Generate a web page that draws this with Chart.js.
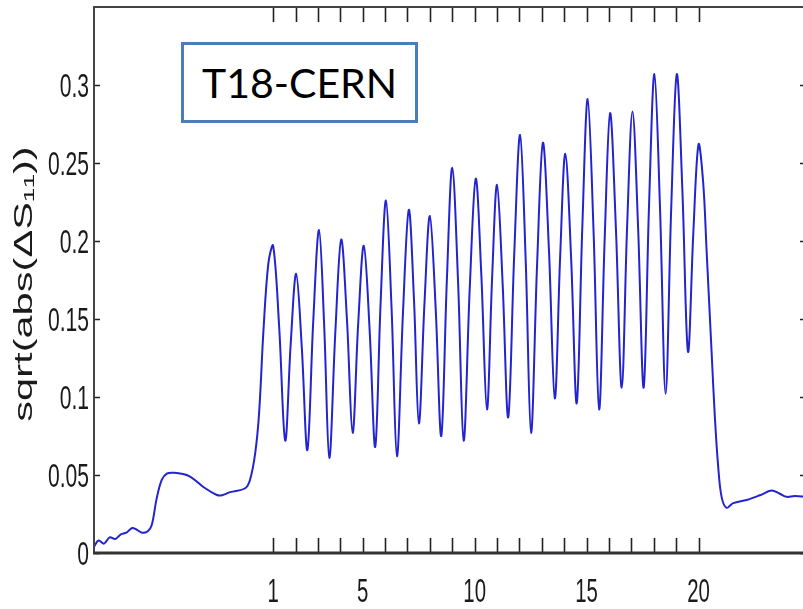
<!DOCTYPE html>
<html>
<head>
<meta charset="utf-8">
<script src="https://cdn.jsdelivr.net/npm/chart.js@4.4.0/dist/chart.umd.min.js"></script>
<style>
  html, body { margin: 0; padding: 0; background: #fff; }
  #wrap { position: relative; width: 803px; height: 609px; overflow: hidden; }
  #chart { position: absolute; left: 0; top: 0; }
  .tag {
    position: absolute; left: 181px; top: 42px; width: 237px; height: 81px;
    box-sizing: border-box; border: 3px solid #4a7ebb; background: #fff;
    font-family: Lato, 'Open Sans', sans-serif; font-size: 41px; line-height: 75px;
    padding-left: 18px; color: #000;
  }
</style>
</head>
<body>
<div id="wrap">
  <canvas id="chart" width="812" height="609"></canvas>
  <div class="tag">T18-CERN</div>
</div>
<script>
// axis ticks
const xTicks = [1, 2, 3, 4, 5, 6, 7, 8, 9, 10, 11, 12, 13, 14, 15, 16, 17, 18, 19, 20];
const xLabelled = [1, 5, 10, 15, 20];
const yTicks = [0, 0.05, 0.1, 0.15, 0.2, 0.25, 0.3];
const yLabels = ['0', '0.05', '0.1', '0.15', '0.2', '0.25', '0.3'];
const yTitle = 'sqrt(abs(ΔS₁₁))';

// noisy floor, first bump and rise into the first peak
const leadX = [-7.0, -6.8, -6.55, -6.3, -6.05, -5.8, -5.55, -5.3, -5.1, -4.85, -4.6, -4.42, -4.2, -3.97,
  -3.73, -3.45, -3.15, -2.71, -2.13, -1.51, -1.28, -0.92, -0.25, -0.03, 0.2, 0.375, 0.57, 0.79];
const leadY = [0.004, 0.008, 0.006, 0.010, 0.009, 0.012, 0.013, 0.016, 0.015, 0.013, 0.014, 0.018, 0.035, 0.047,
  0.051, 0.0515, 0.051, 0.049, 0.0425, 0.0372, 0.037, 0.039, 0.0415, 0.047, 0.064, 0.09, 0.143, 0.186];

// each row: peak, falling flank, trough, rising flank of next peak
const pulseX = [
  1.00, 1.27, 1.54, 1.785,
  2.03, 2.28, 2.53, 2.79,
  3.05, 3.28, 3.51, 3.78,
  4.04, 4.30, 4.55, 4.80,
  5.05, 5.31, 5.56, 5.80,
  6.04, 6.29, 6.53, 6.80,
  7.06, 7.29, 7.51, 7.76,
  8.00, 8.26, 8.51, 8.76,
  9.00, 9.26, 9.51, 9.78,
  10.05, 10.30, 10.55, 10.78,
  11.00, 11.25, 11.50, 11.77,
  12.03, 12.28, 12.52, 12.79,
  13.05, 13.32, 13.58, 13.82,
  14.05, 14.31, 14.56, 14.81,
  15.05, 15.31, 15.56, 15.81,
  16.05, 16.31, 16.57, 16.81,
  17.05, 17.30, 17.55, 17.79,
  18.03, 18.28, 18.53, 18.78,
  19.03, 19.28, 19.53, 19.77,
  20.00
];
const pulseY = [
  0.197, 0.145, 0.072, 0.134,
  0.179, 0.132, 0.066, 0.148,
  0.207, 0.146, 0.061, 0.142,
  0.201, 0.149, 0.077, 0.147,
  0.197, 0.143, 0.068, 0.160,
  0.226, 0.157, 0.062, 0.154,
  0.220, 0.163, 0.083, 0.160,
  0.216, 0.157, 0.075, 0.175,
  0.247, 0.174, 0.072, 0.169,
  0.240, 0.178, 0.092, 0.176,
  0.236, 0.173, 0.087, 0.192,
  0.268, 0.188, 0.077, 0.185,
  0.263, 0.194, 0.099, 0.190,
  0.256, 0.189, 0.096, 0.209,
  0.291, 0.207, 0.092, 0.202,
  0.282, 0.208, 0.106, 0.209,
  0.283, 0.209, 0.106, 0.223,
  0.307, 0.221, 0.102, 0.221,
  0.307, 0.232, 0.129, 0.206,
  0.262
];

// drop after the last peak and the flat tail
const tailX = [20.21, 20.36, 20.58, 20.73, 20.88, 21.03, 21.25, 21.55, 22.15, 22.74, 23.26, 23.63, 23.93, 24.3, 24.8];
const tailY = [0.237, 0.194, 0.130, 0.087, 0.055, 0.036, 0.029, 0.032, 0.034, 0.037, 0.040, 0.038, 0.036, 0.0365, 0.036];

const points = [];
leadX.forEach((v, i) => points.push({ x: v, y: leadY[i] }));
pulseX.forEach((v, i) => points.push({ x: v, y: pulseY[i] }));
tailX.forEach((v, i) => points.push({ x: v, y: tailY[i] }));

// the source figure is squeezed sideways, so labels are drawn narrowed
const labelFont = "34px 'Liberation Sans', Arial, sans-serif";
const titleFont = "26px 'Liberation Sans', Arial, sans-serif";

// inward tick marks on all four sides, box frame and labels
const framePlugin = {
  id: 'frame',
  afterDatasetsDraw(chart) {
    const { ctx, chartArea: a, scales: { x, y } } = chart;
    ctx.save();
    ctx.strokeStyle = '#222';
    ctx.lineWidth = 1.6;
    ctx.beginPath();
    xTicks.forEach(v => {
      const px = Math.round(x.getPixelForValue(v)) + 0.5;
      ctx.moveTo(px, a.bottom); ctx.lineTo(px, a.bottom - 15);
      ctx.moveTo(px, a.top); ctx.lineTo(px, a.top + 15);
    });
    yTicks.forEach(v => {
      const py = Math.round(y.getPixelForValue(v)) + 0.5;
      ctx.moveTo(a.left, py); ctx.lineTo(a.left + 6, py);
      ctx.moveTo(a.right, py); ctx.lineTo(a.right - 6, py);
    });
    ctx.stroke();
    ctx.strokeStyle = '#444';
    ctx.lineWidth = 2;
    ctx.strokeRect(a.left, a.top, a.width, a.height);
    ctx.strokeStyle = '#333';
    ctx.lineWidth = 3;
    ctx.beginPath();
    ctx.moveTo(a.left - 1, a.bottom);
    ctx.lineTo(a.right, a.bottom);
    ctx.stroke();

    ctx.fillStyle = '#1a1a1a';
    ctx.font = labelFont;
    ctx.textBaseline = 'alphabetic';
    ctx.textAlign = 'right';
    yTicks.forEach((v, i) => {
      ctx.save();
      ctx.translate(a.left - 5, y.getPixelForValue(v) + 12);
      ctx.scale(0.62, 1);
      ctx.fillText(yLabels[i], 0, 0);
      ctx.restore();
    });
    ctx.textAlign = 'center';
    xLabelled.forEach(v => {
      ctx.save();
      ctx.translate(x.getPixelForValue(v), a.bottom + 49);
      ctx.scale(0.6, 1);
      ctx.fillText(String(v), 0, 0);
      ctx.restore();
    });

    ctx.font = titleFont;
    ctx.textBaseline = 'middle';
    ctx.translate(25, (a.top + a.bottom) / 2 + 4);
    ctx.rotate(-Math.PI / 2);
    ctx.scale(1.6, 1);
    ctx.fillText(yTitle, 0, 0);
    ctx.restore();
  }
};

new Chart(document.getElementById('chart'), {
  type: 'line',
  data: {
    datasets: [{
      data: points,
      borderColor: '#2323cf',
      borderWidth: 2,
      pointRadius: 0,
      tension: 0.35,
      fill: false
    }]
  },
  options: {
    responsive: false,
    animation: false,
    devicePixelRatio: 1,
    layout: { padding: { top: 7, right: 6, left: 0, bottom: 0 } },
    plugins: { legend: { display: false }, tooltip: { enabled: false } },
    scales: {
      x: {
        type: 'linear',
        min: -7,
        max: 24.8,
        grid: { display: false, drawTicks: false },
        border: { display: false },
        ticks: { display: false },
        afterBuildTicks: s => { s.ticks = xTicks.map(v => ({ value: v })); },
        afterFit: s => { s.height = 56; s.paddingLeft = 0; s.paddingRight = 0; }
      },
      y: {
        min: 0,
        max: 0.35,
        grid: { display: false, drawTicks: false },
        border: { display: false },
        ticks: { display: false },
        afterBuildTicks: s => { s.ticks = yTicks.map(v => ({ value: v })); },
        afterFit: s => { s.width = 94; s.paddingTop = 0; s.paddingBottom = 0; }
      }
    }
  },
  plugins: [framePlugin]
});
</script>
</body>
</html>
